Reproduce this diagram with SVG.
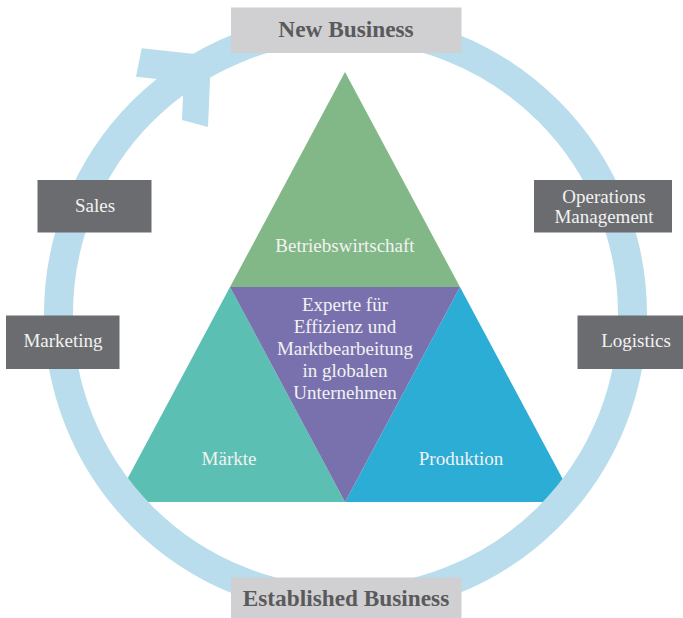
<svg xmlns="http://www.w3.org/2000/svg" width="683" height="618" viewBox="0 0 683 618">
<style>
text{font-family:"Liberation Serif","DejaVu Serif",serif;text-anchor:middle}
.lt{fill:#f2f2f2;font-size:19px}
.bx{fill:#6b6c70}
.hd{fill:#d0d0d2}
.ht{fill:#5a5a5c;font-size:23.3px;font-weight:bold}
.ring{fill:none;stroke:#b9ddec;stroke-width:29}
</style>
<rect width="683" height="618" fill="#ffffff"/>
<g id="betriebswirtschaft">
<polygon points="345,72 460,287 230,287" fill="#82b887"/>
<text class="lt" x="345" y="252">Betriebswirtschaft</text>
</g>
<g id="maerkte">
<polygon points="230,287 345,502 115,502" fill="#5bbfb3"/>
<text class="lt" x="229" y="465">Märkte</text>
</g>
<g id="produktion">
<polygon points="460,287 575,502 345,502" fill="#2badd6"/>
<text class="lt" x="461" y="465">Produktion</text>
</g>
<g id="experte">
<polygon points="230,287 460,287 345,502" fill="#7971ae"/>
<text class="lt" x="345" y="311">Experte für</text>
<text class="lt" x="345" y="333">Effizienz und</text>
<text class="lt" x="345" y="355">Marktbearbeitung</text>
<text class="lt" x="345" y="377">in globalen</text>
<text class="lt" x="345" y="399">Unternehmen</text>
</g>
<g id="connectors">
<circle class="ring" cx="345.5" cy="314" r="287"/>
<polygon points="141.7,48.3 211,55.7 208,127 182,120 183.6,81.8 136,76.7" fill="#b9ddec"/>
</g>
<g id="new-business">
<rect class="hd" x="231" y="7.5" width="230.5" height="45.5"/>
<text class="ht" x="346" y="37">New Business</text>
</g>
<g id="established-business">
<rect class="hd" x="231" y="577.5" width="230.5" height="41"/>
<text class="ht" x="346" y="606">Established Business</text>
</g>
<g id="sales">
<rect class="bx" x="37.5" y="180" width="114" height="52.5"/>
<text class="lt" x="95" y="212">Sales</text>
</g>
<g id="marketing">
<rect class="bx" x="6" y="315.5" width="113.5" height="53.5"/>
<text class="lt" x="63" y="347">Marketing</text>
</g>
<g id="operations-management">
<rect class="bx" x="534" y="180" width="138" height="52.5"/>
<text class="lt" x="604" y="203">Operations</text>
<text class="lt" x="604" y="223">Management</text>
</g>
<g id="logistics">
<rect class="bx" x="577.5" y="315.5" width="105.5" height="53.5"/>
<text class="lt" x="636" y="347">Logistics</text>
</g>
</svg>
